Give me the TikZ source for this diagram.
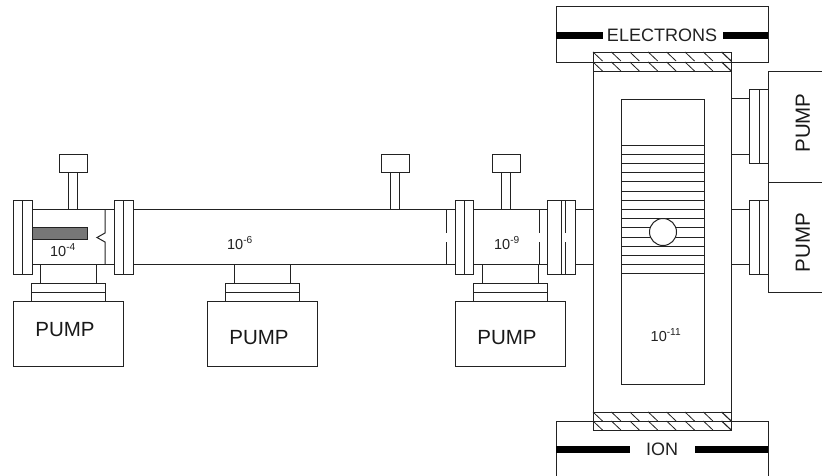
\documentclass[tikz,border=0pt]{standalone}
\usepackage{fontspec}
\setmainfont{Liberation Sans}
\definecolor{ln}{HTML}{222222}
\definecolor{bar}{HTML}{777777}
\tikzset{
  part/.style={draw=ln,line width=1pt,fill=white},
  wire/.style={draw=ln,line width=1pt},
  thin hatch/.style={draw=ln,line width=0.8pt},
  beam/.style={draw=none,fill=black},
  pumplabel/.style={inner sep=0pt,font=\fontsize{20.5}{22}\selectfont,text=black!90},
  beamlabel/.style={inner sep=0pt,font=\fontsize{18}{20}\selectfont,text=ln},
  presslabel/.style={inner sep=0pt,font=\fontsize{14.5}{16}\selectfont,text=ln}
}
\newcommand{\pw}[1]{10\textsuperscript{-#1}}
\newcommand{\gaugeat}[1]{%
  \draw[part] (#1+9,172) rectangle (#1+18.5,209);
  \draw[part] (#1,154) rectangle (#1+28,172);}
\newcommand{\pumpat}[1]{%
  \draw[part] (#1+27,264) rectangle (#1+83,283);
  \draw[part] (#1+18,283) rectangle (#1+92,301);
  \draw[wire] (#1+18,292) -- (#1+92,292);
  \draw[part] (#1,301) rectangle (#1+110,366);}
\newcommand{\flangeat}[2]{%
  \draw[part] (#1,200) rectangle (#2,274);}
\begin{document}
\begin{tikzpicture}[x=1pt,y=-1pt]
\useasboundingbox (0,0) rectangle (822,475);
% beam tube
\draw[wire] (32,209) -- (593,209);
\draw[wire] (32,264) -- (593,264);
% gauges
\gaugeat{59}
\gaugeat{381}
\gaugeat{492}
% pumps under the tube
\pumpat{13}
\pumpat{207}
\pumpat{455}
% flanges
\flangeat{13}{32}  \draw[wire] (22.5,200) -- (22.5,274);
\flangeat{114}{133} \draw[wire] (123.5,200) -- (123.5,274);
\flangeat{455}{473} \draw[wire] (464,200) -- (464,274);
\flangeat{547}{575}
\draw[wire] (561,200) -- (561,274);
\draw[wire] (565,200) -- (565,233) (565,242) -- (565,274);
% apertures
\fill[bar,draw=ln,line width=0.5pt] (32,227) rectangle (87,239);
\draw[wire] (105,209) -- (105,233) -- (97,237.5) -- (105,242) -- (105,264);
\draw[wire] (446,209) -- (446,233) (446,242) -- (446,264);
\draw[wire] (539,209) -- (539,233) (539,242) -- (539,264);
% right side pump stubs
\draw[part] (731,98) rectangle (749,154);
\draw[part] (731,209) rectangle (749,264);
\draw[part] (749,89) rectangle (768,163);
\draw[wire] (759,89) -- (759,163);
\draw[part] (749,200) rectangle (768,274);
\draw[wire] (759,200) -- (759,274);
\draw[part] (768,71) rectangle (830,182);
\draw[part] (768,182) rectangle (830,292);
% source boxes
\draw[part] (556,6) rectangle (768,62);
\draw[part] (556,480) -- (556,421) -- (768,421) -- (768,480);
% chamber
\draw[part] (593,52) rectangle (731,430);
\draw[wire] (593,62) -- (731,62);
\draw[wire] (593,71) -- (731,71);
\draw[wire] (593,412) -- (731,412);
\draw[wire] (593,421) -- (731,421);
\foreach \y in {52,62,412,421}
  \foreach \i in {0,...,7}
    \draw[thin hatch] (593+18.4*\i,\y) -- (593+18.4*\i+9.5,\y+9);
\draw[thin hatch] (721.5,52) -- (731,61);
\draw[thin hatch] (721.5,62) -- (731,71);
\draw[thin hatch] (721.5,412) -- (731,421);
\draw[thin hatch] (721.5,421) -- (731,430);
% inner cell
\draw[part] (621,99) rectangle (704,384);
\foreach \i in {0,...,14}
  \draw[wire] (621,145+9.21*\i) -- (704,145+9.21*\i);
\draw[part] (663,232) circle (13.5);
% beams
\fill[beam] (556,32) rectangle (603,38.5);
\fill[beam] (723,32) rectangle (768,38.5);
\fill[beam] (556,446) rectangle (630,452.5);
\fill[beam] (695,446) rectangle (768,452.5);
% labels
\node[beamlabel] (electrons) at (662,35) {ELECTRONS};
\node[beamlabel] (ion) at (662,449) {ION};
\node[pumplabel] (pumpa) at (65,330) {PUMP};
\node[pumplabel] (pumpb) at (259,338) {PUMP};
\node[pumplabel] (pumpc) at (507,338) {PUMP};
\node[pumplabel,rotate=90] (pumpd) at (803,123) {PUMP};
\node[pumplabel,rotate=90] (pumpe) at (803,242.5) {PUMP};
\node[presslabel] (pa) at (63,250) {\pw{4}};
\node[presslabel] (pb) at (240,243) {\pw{6}};
\node[presslabel] (pc) at (507,243) {\pw{9}};
\node[presslabel] (pd) at (666,335) {\pw{11}};
\end{tikzpicture}
\end{document}
